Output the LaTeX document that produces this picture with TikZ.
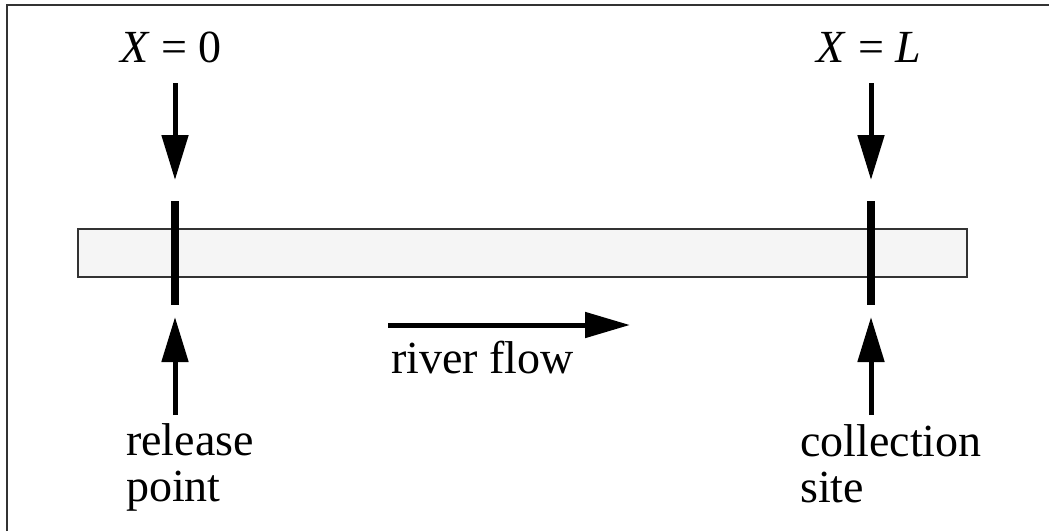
\documentclass[tikz,border=0pt]{standalone}
\usepackage{fontspec}
\setmainfont{Liberation Serif}
\usetikzlibrary{arrows.meta}

\begin{document}
\begin{tikzpicture}[x=1pt, y=-1pt,
    lbl/.style={inner sep=0pt, font=\fontsize{46}{47}\selectfont},
    sitebar/.style={line width=8pt},
    pointer/.style={line width=5pt, -{Triangle[length=45pt, width=26pt]}},
    riverbox/.style={draw=black!80, line width=1.5pt, fill=black!4, minimum width=889pt, minimum height=48pt, inner sep=0pt}]
        \useasboundingbox (0,0) rectangle (1049,531);

        % frame
        \draw[black!80, line width=2pt] (7,531) -- (7,5) -- (1049,5);

        % river
        \node[riverbox] (river) at (522.5,253) {};

        % marks
        \coordinate (reltop) at (175,201);
        \coordinate (relbot) at (175,305);
        \coordinate (coltop) at (871,201);
        \coordinate (colbot) at (871,305);
        \draw[sitebar] (reltop) -- (relbot);
        \draw[sitebar] (coltop) -- (colbot);

        % labels
        \node[lbl, anchor=base] (xzero) at (171,62) {\textit{X} = 0};
        \node[lbl, anchor=base] (xend) at (869,62) {\textit{X} = \textit{L}};
        \node[lbl, anchor=base west] (rela) at (126,455) {release};
        \node[lbl, anchor=base west] (relb) at (126,501) {point};
        \node[lbl, anchor=base west] (cola) at (800,456) {collection};
        \node[lbl, anchor=base west] (colb) at (800,502) {site};
        \node[lbl, anchor=base west] (flow) at (391,373) {river flow};

        % arrows
        \coordinate (reldown) at (175,83);
        \coordinate (coldown) at (871,83);
        \coordinate (relup) at (175,415);
        \coordinate (colup) at (871,415);
        \draw[pointer] (reldown) -- (175,180);
        \draw[pointer] (coldown) -- (871,180);
        \draw[pointer] (relup) -- (175,317);
        \draw[pointer] (colup) -- (871,317);
        \coordinate (flowa) at (388,325);
        \coordinate (flowb) at (630,325);
        \draw[pointer, -{Triangle[length=45pt, width=25pt]}] (flowa) -- (flowb);
\end{tikzpicture}
\end{document}
